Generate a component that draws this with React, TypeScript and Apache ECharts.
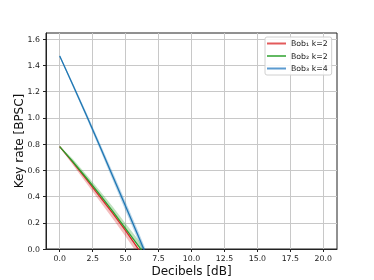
import React, { useEffect, useRef } from "react";
import * as echarts from "echarts";

const xs = [0, 1, 2, 3, 4, 5, 6, 7];
const bob1 = [0.78, 0.66, 0.535, 0.405, 0.275, 0.14, -0.004, -0.15];
const bob2 = [0.78, 0.665, 0.545, 0.42, 0.29, 0.155, 0.02, -0.12];
const bob3 = [1.471, 1.25, 1.025, 0.795, 0.56, 0.325, 0.09, -0.15];
const bob1Lo = [0.775, 0.64, 0.505, 0.37, 0.235, 0.095, -0.05, -0.19];
const bob1Hi = [0.785, 0.665, 0.54, 0.41, 0.28, 0.145, 0.0, -0.145];
const bob2Lo = [0.775, 0.66, 0.54, 0.415, 0.285, 0.15, 0.015, -0.125];
const bob2Hi = [0.785, 0.685, 0.57, 0.45, 0.325, 0.195, 0.065, -0.08];
const bob3Lo = [1.462, 1.235, 1.005, 0.77, 0.53, 0.29, 0.055, -0.18];
const bob3Hi = [1.48, 1.265, 1.045, 0.82, 0.59, 0.36, 0.125, -0.12];
const names = ["Bob\u2081 k=2", "Bob\u2082 k=2", "Bob\u2083 k=4"];
const colors = ["#d62728", "#2ca02c", "#1f77b4"];
const legendColors = ["#e35a5b", "#62b962", "#5b9bd0"];
const xTicks = [0, 2.5, 5, 7.5, 10, 12.5, 15, 17.5, 20];
const yTicks = [0, 0.2, 0.4, 0.6, 0.8, 1.0, 1.2, 1.4, 1.6];

const FONT = "DejaVu Sans";

export default function App() {
  const ref = useRef<HTMLDivElement>(null);
  useEffect(() => {
    if (!ref.current) return;
    const chart = echarts.init(ref.current, null, { renderer: "svg" });
    const lines = [bob1, bob2, bob3];
    const los = [bob1Lo, bob2Lo, bob3Lo];
    const his = [bob1Hi, bob2Hi, bob3Hi];
    const series: any[] = [];
    for (let i = 0; i < 3; i++) {
      const lo = los[i];
      const hi = his[i];
      const col = colors[i];
      series.push({
        type: "custom",
        data: [[0, 0]],
        encode: { x: 0, y: 1 },
        clip: true,
        silent: true,
        z: 1,
        renderItem: (params: any, api: any) => {
          const pts: number[][] = [];
          for (let j = 0; j < xs.length; j++) pts.push(api.coord([xs[j], hi[j]]));
          for (let j = xs.length - 1; j >= 0; j--) pts.push(api.coord([xs[j], lo[j]]));
          const cs = params.coordSys;
          return {
            type: "group",
            clipPath: { type: "rect", shape: { x: cs.x, y: cs.y, width: cs.width, height: cs.height } },
            children: [
              {
                type: "polygon",
                shape: { points: pts },
                style: { fill: col, opacity: 0.3, stroke: "none" },
              },
            ],
          };
        },
      });
    }
    for (let i = 0; i < 3; i++) {
      series.push({
        name: names[i],
        type: "line",
        data: xs.map((x, j) => [x, lines[i][j]]),
        showSymbol: false,
        lineStyle: { color: colors[i], width: 1.3 },
        itemStyle: { color: colors[i] },
        z: 3,
      });
    }
    chart.setOption({
      animation: false,
      textStyle: { fontFamily: FONT },
      grid: {
        left: 46,
        top: 33,
        right: 37,
        bottom: 31,
        outerBoundsMode: "none",
        containLabel: false,
        show: true,
        borderColor: "#222",
        borderWidth: 1,
        backgroundColor: "#fff",
      },
      legend: {
        data: names.map((n, i) => ({ name: n, itemStyle: { color: legendColors[i] } })),
        orient: "vertical",
        left: 265,
        top: 37,
        icon: "rect",
        itemWidth: 19,
        itemHeight: 2,
        itemGap: 2.5,
        padding: [1.5, 4, 1.5, 2],
        backgroundColor: "rgba(255,255,255,0.85)",
        borderColor: "#d0d0d0",
        borderWidth: 1,
        borderRadius: 2,
        textStyle: { fontFamily: FONT, fontSize: 7.8, color: "#222", lineHeight: 10 },
      },
      xAxis: {
        type: "value",
        min: -1.04,
        max: 21.04,
        minInterval: 2.5,
        maxInterval: 2.5,
        splitNumber: 9,
        name: "Decibels [dB]",
        nameLocation: "middle",
        nameGap: 16,
        nameMoveOverlap: false,
        nameTextStyle: { fontFamily: FONT, fontSize: 12, color: "#111" },
        axisLine: { show: true, onZero: false, lineStyle: { color: "#222", width: 1 } },
        axisTick: { show: true, length: 3, lineStyle: { color: "#222" }, customValues: xTicks },
        axisLabel: {
          fontFamily: FONT,
          fontSize: 7.8,
          color: "#1a1a1a",
          margin: 5,
          customValues: xTicks,
          formatter: (v: number) => v.toFixed(1),
        },
        splitLine: { show: true, lineStyle: { color: "#c8c8c8", width: 1 } },
      },
      yAxis: {
        type: "value",
        min: 0,
        max: 1.646,
        interval: 0.2,
        name: "Key rate [BPSC]",
        nameLocation: "middle",
        nameGap: 21,
        nameMoveOverlap: false,
        nameTextStyle: { fontFamily: FONT, fontSize: 12, color: "#111" },
        axisLine: { show: true, onZero: false, lineStyle: { color: "#222", width: 1 } },
        axisTick: { show: true, length: 3, lineStyle: { color: "#222" }, customValues: yTicks },
        axisLabel: {
          fontFamily: FONT,
          fontSize: 7.8,
          color: "#1a1a1a",
          margin: 6,
          customValues: yTicks,
          formatter: (v: number) => v.toFixed(1),
        },
        splitLine: { show: true, lineStyle: { color: "#c8c8c8", width: 1 } },
      },
      series,
    });
    return () => chart.dispose();
  }, []);
  return (
    <div
      ref={ref}
      style={{ position: "fixed", left: 0, top: 0, width: 374, height: 280 }}
    />
  );
}
